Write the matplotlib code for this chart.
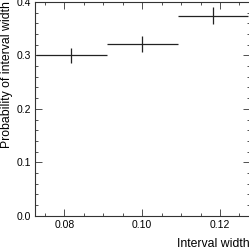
import numpy as np
import matplotlib.pyplot as plt
from matplotlib.ticker import MultipleLocator

plt.rcParams.update({'font.family': ['Liberation Sans', 'DejaVu Sans'], 'font.size': 7.5})

# binned probability of interval width
bin_edges = [0.07273, 0.09091, 0.10909, 0.12727]
prob = [0.300, 0.322, 0.3745]
prob_err = [0.014, 0.0147, 0.0156]


def plot_hist(edges, values, errors):
	edges = np.array(edges)
	centers = 0.5 * (edges[1:] + edges[:-1])
	half = 0.5 * (edges[1:] - edges[:-1])

	fig = plt.figure(figsize=(2.49, 2.49), dpi=100)
	axis = fig.add_axes([35 / 249, 33.3 / 249, 215 / 249, 213.7 / 249])
	axis.errorbar(centers, values, xerr=half, yerr=errors, fmt='none',
		ecolor='#222222', elinewidth=0.9, capsize=0)

	axis.set_xlim(0.07245, 0.1277)
	axis.set_ylim(0, 0.4)
	axis.xaxis.set_major_locator(MultipleLocator(0.02))
	axis.xaxis.set_minor_locator(MultipleLocator(0.005))
	axis.yaxis.set_major_locator(MultipleLocator(0.1))
	axis.yaxis.set_minor_locator(MultipleLocator(0.02))
	axis.xaxis.set_major_formatter(plt.FuncFormatter(lambda v, p: f'{v:.2f}'))
	axis.yaxis.set_major_formatter(plt.FuncFormatter(lambda v, p: f'{v:.1f}'))
	axis.tick_params(which='both', direction='in', top=True, right=True,
		width=0.6, color='#333333', pad=3)
	axis.tick_params(which='major', length=5)
	axis.tick_params(which='minor', length=2.5)
	for s in axis.spines.values():
		s.set_linewidth(0.8)
		s.set_color('#333333')

	axis.set_xlabel('Interval width', fontsize=8.8, ha='right')
	axis.xaxis.set_label_coords(1.0, -0.105)
	axis.set_ylabel('Probability of interval width', fontsize=8.8, ha='right')
	axis.yaxis.set_label_coords(-0.1, 1.005)

	fig.savefig('out.png', dpi=100)


if __name__ == '__main__':
	plot_hist(bin_edges, prob, prob_err)
